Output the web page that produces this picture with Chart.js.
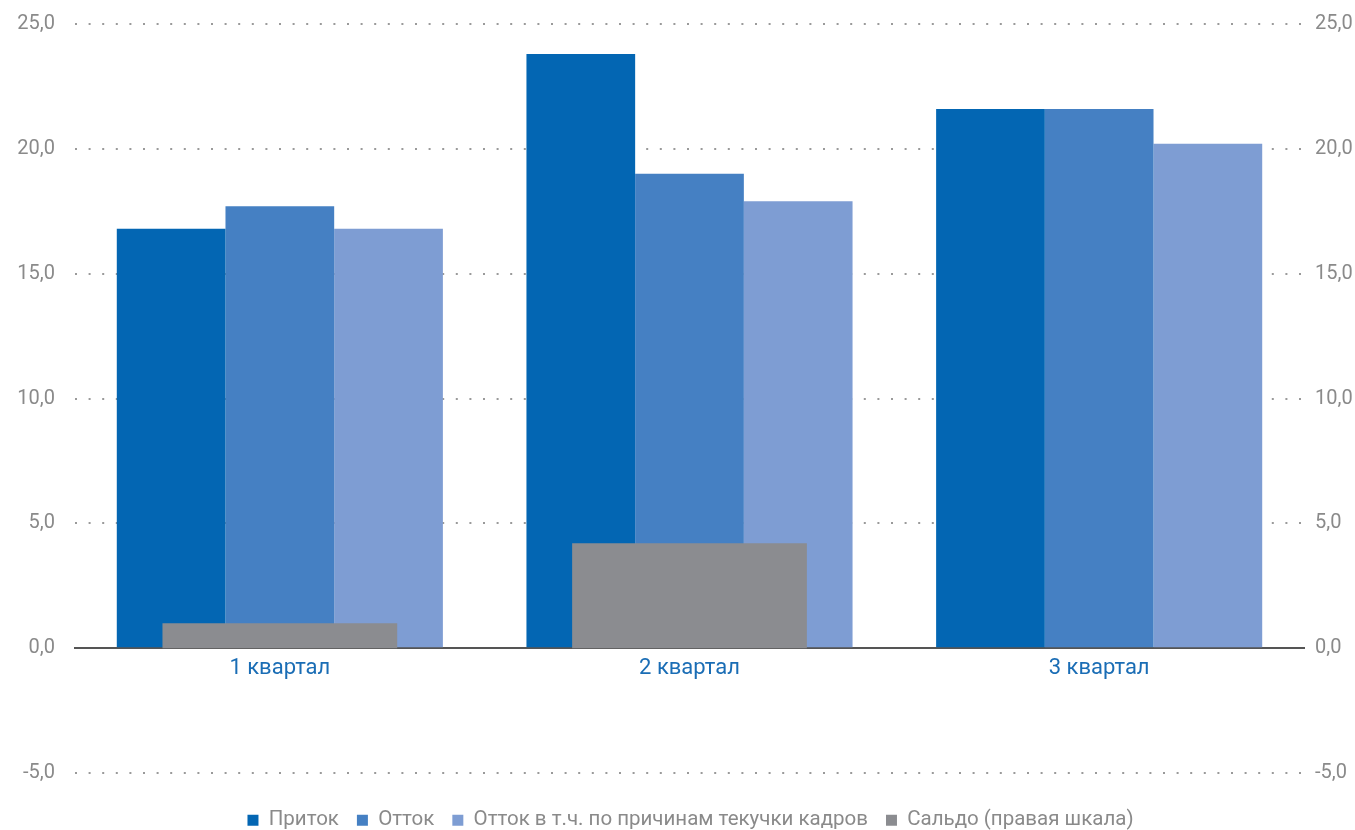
<!DOCTYPE html>
<html lang="ru">
<head>
<meta charset="utf-8">
<title>Приток и отток</title>
<script src="https://cdn.jsdelivr.net/npm/chart.js@4/dist/chart.umd.min.js"></script>
<style>
  html, body { margin: 0; padding: 0; background: #fff; height: 830px; overflow: hidden; }
  #wrap { width: 1355px; height: 836px; margin-top: -6px; position: relative; }
</style>
</head>
<body>
<div id="wrap"><canvas id="flowChart"></canvas></div>
<script>
const quarters = ['1 квартал', '2 квартал', '3 квартал'];
const inflow = [16.8, 23.8, 21.6];
const outflow = [17.7, 19.0, 21.6];
const turnoverOutflow = [16.8, 17.9, 20.2];
const balance = [1.0, 4.2, 0];

const seriesNames = ['Приток', 'Отток', 'Отток в т.ч. по причинам текучки кадров', 'Сальдо (правая шкала)'];
const seriesColors = ['#0366b3', '#4580c3', '#7e9dd3', '#8b8c90'];

const axisMin = -5;
const axisMax = 25;
const axisStep = 5;

const tickText = v => v.toFixed(1).replace('.', ',');
const grey = '#8a8a8a';
const fontFamily = 'Roboto, "Open Sans", sans-serif';
const tickFont = { family: fontFamily, size: 20, lineHeight: 1 };

// legend box: fixed height, nudged down and slightly right under the plot
const legendHeight = 57;
const legendShift = 19;
const legendShiftX = 13;
const legendTweak = {
    id: 'legendTweak',
    beforeInit(chart) {
        const fit = chart.legend.fit;
        chart.legend.fit = function () {
            fit.call(this);
            this.height = legendHeight;
        };
    },
    afterLayout(chart) {
        chart.legend.top += legendShift;
        chart.legend.bottom += legendShift;
        chart.legend.left += legendShiftX;
        chart.legend.right += legendShiftX;
    }
};

const ctx = document.getElementById('flowChart').getContext('2d');
new Chart(ctx, {
    type: 'bar',
    data: {
        labels: quarters,
        datasets: [
            { label: seriesNames[0], data: inflow, backgroundColor: seriesColors[0], yAxisID: 'y' },
            { label: seriesNames[1], data: outflow, backgroundColor: seriesColors[1], yAxisID: 'y' },
            { label: seriesNames[2], data: turnoverOutflow, backgroundColor: seriesColors[2], yAxisID: 'y' },
            {
                // balance sits over the group, centred, on the right-hand scale
                label: seriesNames[3], data: balance, backgroundColor: seriesColors[3],
                yAxisID: 'y2', order: -1, grouped: false,
                barPercentage: 1, categoryPercentage: 0.573
            }
        ]
    },
    options: {
        responsive: true,
        maintainAspectRatio: false,
        devicePixelRatio: 1,
        animation: false,
        layout: { padding: { left: 0, right: 0, top: 0, bottom: 0 } },
        datasets: {
            bar: { barPercentage: 1, categoryPercentage: 0.796, borderWidth: 0 }
        },
        plugins: {
            tooltip: { enabled: false },
            legend: {
                position: 'bottom',
                labels: {
                    color: grey,
                    boxWidth: 11,
                    boxHeight: 11,
                    padding: 18,
                    font: { family: fontFamily, size: 20.5 },
                    sort: (a, b) => a.datasetIndex - b.datasetIndex
                }
            }
        },
        scales: {
            x: {
                position: { y: 0 },
                offset: true,
                grid: { display: false, drawTicks: false },
                border: { display: true, color: '#555', width: 2 },
                ticks: {
                    color: '#1a6db5',
                    padding: 7,
                    font: { family: fontFamily, size: 22 }
                }
            },
            y: {
                position: 'left',
                min: axisMin,
                max: axisMax,
                afterFit: axis => { axis.width = 75; },
                grid: {
                    color: ctx => ctx.tick.value === 0 ? 'rgba(0,0,0,0)' : '#9a9a9a',
                    lineWidth: 2,
                    drawTicks: false
                },
                border: { display: false, dash: [2, 11.6] },
                ticks: {
                    stepSize: axisStep,
                    color: grey,
                    padding: 20,
                    font: tickFont,
                    callback: v => tickText(v)
                }
            },
            y2: {
                position: 'right',
                min: axisMin,
                max: axisMax,
                afterFit: axis => { axis.width = 51; },
                grid: { display: false, drawTicks: false },
                border: { display: false },
                ticks: {
                    stepSize: axisStep,
                    color: grey,
                    padding: 11,
                    font: tickFont,
                    callback: v => tickText(v)
                }
            }
        }
    },
    plugins: [legendTweak]
});
</script>
</body>
</html>
